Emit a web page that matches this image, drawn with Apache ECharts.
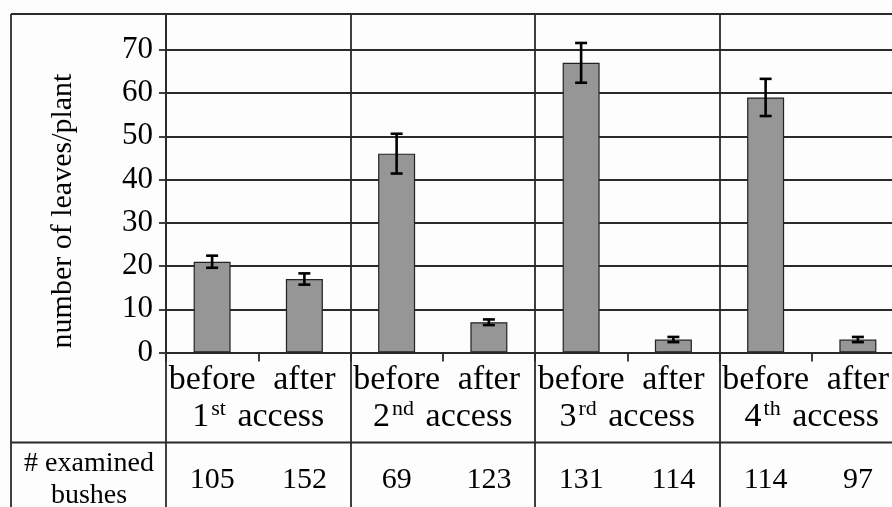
<!DOCTYPE html>
<html>
<head>
<meta charset="utf-8">
<script src="https://cdn.jsdelivr.net/npm/echarts@6/dist/echarts.min.js"></script>
<style>
html,body{margin:0;padding:0;background:#fff;}
#chart{width:892px;height:507px;}
</style>
</head>
<body>
<div id="chart"></div>
<script>
// ---- data ----
const categories = ['before', 'after', 'before', 'after', 'before', 'after', 'before', 'after'];
const groupNumbers = ['1', '2', '3', '4'];
const groupSuffixes = ['st', 'nd', 'rd', 'th'];
const leavesPerPlant = [21, 17, 46, 7, 67, 3, 59, 3];
const errorValues = [1.4, 1.3, 4.6, 0.65, 4.6, 0.6, 4.3, 0.6];
const examinedBushes = [105, 152, 69, 123, 131, 114, 114, 97];
const yAxisTitle = 'number of leaves/plant';
const rowTitle = '# examined\nbushes';

// ---- build ----
const errorData = leavesPerPlant.map((v, i) => [i, v - errorValues[i], v + errorValues[i]]);
const FONT = 'Liberation Serif';
const LINE = '#2a2a2a';
const LW = 1.8;

const chart = echarts.init(document.getElementById('chart'), null, {renderer: 'canvas'});
chart.setOption({
  backgroundColor: '#fdfdfd',
  animation: false,
  textStyle: {fontFamily: FONT, color: '#000'},
  grid: [
    {left: 166, width: 738, top: 14, bottom: 154.5, outerBoundsMode: 'none', containLabel: false},
    {left: 166, width: 738, top: 14, bottom: 0, outerBoundsMode: 'none', containLabel: false}
  ],
  xAxis: [
    {
      type: 'category', gridIndex: 0, data: categories,
      axisLine: {show: true, lineStyle: {color: LINE, width: LW}},
      axisTick: {show: true, interval: 0, length: 9, lineStyle: {color: LINE, width: LW}},
      axisLabel: {interval: 0, margin: 11, color: '#000', fontFamily: FONT, fontSize: 34},
      splitLine: {show: false}
    },
    {
      type: 'category', gridIndex: 0, position: 'bottom', offset: 35, data: groupNumbers,
      axisLine: {show: false}, axisTick: {show: false},
      axisLabel: {
        interval: 0, margin: 11, color: '#000', fontFamily: FONT,
        formatter: (v, i) => '{n|' + v + '}{sup|' + groupSuffixes[i] + '}{n| access}',
        rich: {
          n: {fontFamily: FONT, fontSize: 34, color: '#000'},
          sup: {fontFamily: FONT, fontSize: 22, color: '#000', padding: [0, 3, 16, 2]}
        }
      },
      splitLine: {show: false}
    },
    {
      type: 'category', gridIndex: 0, position: 'bottom', offset: 103, data: examinedBushes.map(String),
      axisLine: {show: false}, axisTick: {show: false},
      axisLabel: {interval: 0, margin: 10, color: '#000', fontFamily: FONT, fontSize: 30},
      splitLine: {show: false}
    },
    {
      type: 'category', gridIndex: 1, data: groupNumbers,
      axisLine: {show: false}, axisTick: {show: false}, axisLabel: {show: false},
      splitLine: {show: true, interval: 0, lineStyle: {color: LINE, width: LW}}
    }
  ],
  yAxis: [
    {
      type: 'value', gridIndex: 0, min: 0, max: 78.3, interval: 10,
      axisLine: {show: true, lineStyle: {color: LINE, width: LW}},
      axisTick: {show: true, length: 7, lineStyle: {color: LINE, width: LW}},
      axisLabel: {showMaxLabel: false, margin: 13, color: '#000', fontFamily: FONT, fontSize: 31},
      splitLine: {show: true, lineStyle: {color: LINE, width: LW}}
    },
    {type: 'value', gridIndex: 1, min: 0, max: 1, show: false, splitLine: {show: false}}
  ],
  series: [
    {
      type: 'bar', xAxisIndex: 0, yAxisIndex: 0, data: leavesPerPlant, barWidth: 37,
      itemStyle: {color: '#969696', borderColor: '#222', borderWidth: 1.2}
    },
    {
      type: 'custom', xAxisIndex: 0, yAxisIndex: 0, data: errorData, z: 5,
      renderItem: function (params, api) {
        const x = api.value(0);
        const lo = api.coord([x, api.value(1)]);
        const hi = api.coord([x, api.value(2)]);
        const hw = 6;
        const st = {stroke: '#000', lineWidth: 2.6};
        return {
          type: 'group',
          children: [
            {type: 'line', shape: {x1: hi[0], y1: hi[1], x2: lo[0], y2: lo[1]}, style: st},
            {type: 'line', shape: {x1: hi[0] - hw, y1: hi[1], x2: hi[0] + hw, y2: hi[1]}, style: st},
            {type: 'line', shape: {x1: lo[0] - hw, y1: lo[1], x2: lo[0] + hw, y2: lo[1]}, style: st}
          ]
        };
      }
    }
  ],
  graphic: [
    {type: 'line', shape: {x1: 11, y1: 14, x2: 892, y2: 14}, style: {stroke: LINE, lineWidth: LW}},
    {type: 'line', shape: {x1: 11, y1: 14, x2: 11, y2: 507}, style: {stroke: LINE, lineWidth: LW}},
    {type: 'line', shape: {x1: 11, y1: 442.5, x2: 892, y2: 442.5}, style: {stroke: LINE, lineWidth: LW}},
    {type: 'text', x: 63, y: 211, rotation: Math.PI / 2,
     style: {text: yAxisTitle, font: '30px "Liberation Serif"', fill: '#000', align: 'center', verticalAlign: 'middle'}},
    {type: 'text', x: 89, y: 480,
     style: {text: rowTitle, font: '28px "Liberation Serif"', fill: '#000', align: 'center', verticalAlign: 'middle', lineHeight: 32}}
  ]
});
</script>
</body>
</html>
